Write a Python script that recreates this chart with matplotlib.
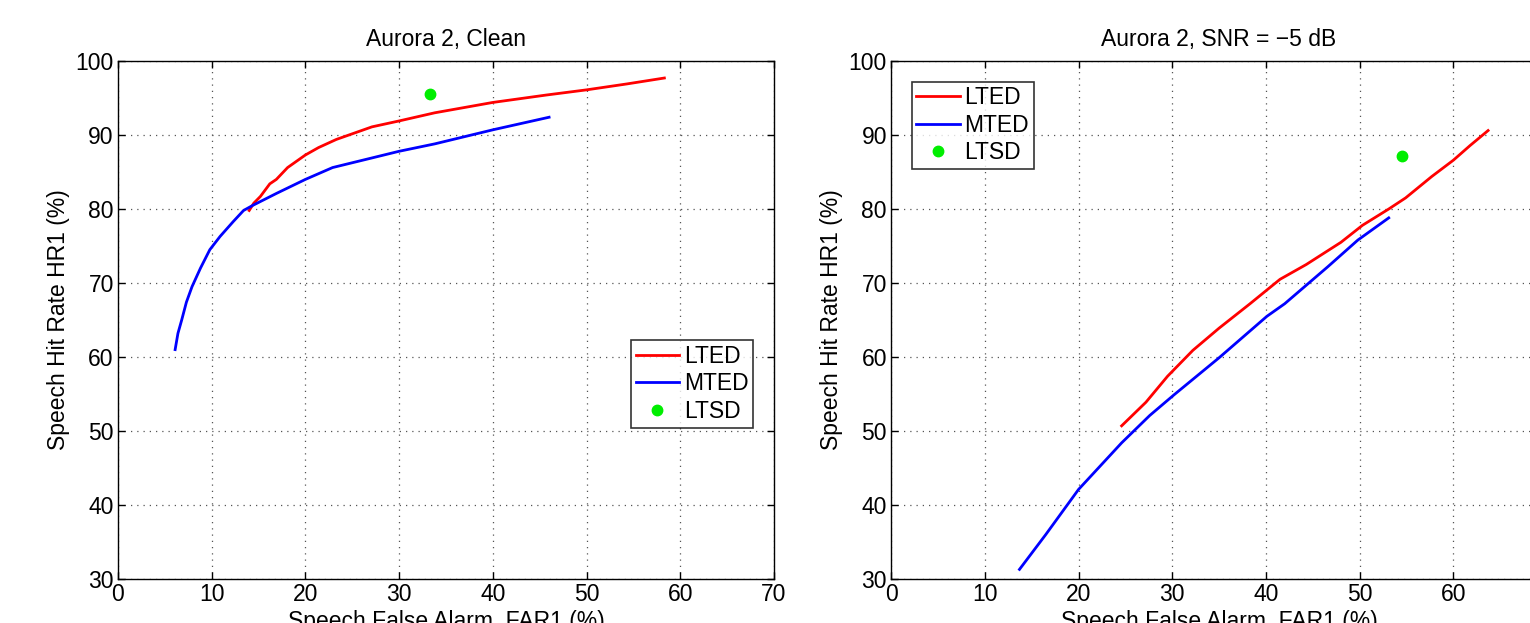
import matplotlib
matplotlib.use("Agg")
import matplotlib.pyplot as plt

plt.rcParams['font.family'] = ['Liberation Sans', 'DejaVu Sans']

# Clean condition: ROC points (false alarm %, hit rate %)
clean_lted_far = [14.0, 14.5, 15.2, 16.2, 16.9, 18.1, 20.0, 21.4, 23.3, 27.1, 30.0, 33.8, 40.0, 45.7, 50.0, 54.3, 58.3]
clean_lted_hr = [79.8, 80.8, 81.7, 83.4, 84.0, 85.6, 87.3, 88.3, 89.4, 91.1, 91.9, 93.0, 94.4, 95.4, 96.1, 96.9, 97.7]
clean_mted_far = [6.1, 6.4, 6.8, 7.3, 7.9, 8.8, 9.8, 10.9, 12.3, 13.4, 14.4, 16.9, 20.0, 22.9, 27.1, 30.0, 33.8, 40.0, 46.0]
clean_mted_hr = [61.0, 63.2, 65.0, 67.4, 69.5, 72.0, 74.5, 76.3, 78.3, 79.8, 80.5, 82.1, 84.0, 85.6, 86.9, 87.8, 88.8, 90.7, 92.4]
clean_ltsd = (33.3, 95.5)

# SNR = -5 dB
noisy_lted_far = [24.6, 27.2, 29.5, 32.2, 35.0, 38.3, 41.5, 44.3, 48.0, 50.3, 53.1, 54.9, 57.7, 60.0, 61.8, 63.7]
noisy_lted_hr = [50.7, 53.9, 57.4, 60.9, 63.9, 67.2, 70.5, 72.5, 75.5, 77.8, 80.0, 81.5, 84.4, 86.6, 88.6, 90.6]
noisy_mted_far = [13.7, 16.5, 20.0, 24.6, 27.6, 30.2, 35.0, 40.1, 42.0, 46.6, 49.8, 53.1]
noisy_mted_hr = [31.3, 36.0, 42.1, 48.4, 52.1, 54.9, 59.9, 65.5, 67.2, 72.2, 75.8, 78.8]
noisy_ltsd = (54.5, 87.1)

xticks = [0, 10, 20, 30, 40, 50, 60, 70]
yticks = [30, 40, 50, 60, 70, 80, 90, 100]

FS = 16.5

fig = plt.figure(figsize=(15.3, 6.23), dpi=100)
ax1 = fig.add_axes([0.0771, 0.0706, 0.4288, 0.8315])
ax2 = fig.add_axes([0.5824, 0.0706, 0.4288, 0.8315])


def draw_panel(ax, lted, mted, ltsd, title, legend_kw, xlabels):
    ax.plot(lted[0], lted[1], color='#ff0000', lw=2.0, label='LTED')
    ax.plot(mted[0], mted[1], color='#0000ff', lw=2.0, label='MTED')
    ax.plot([ltsd[0]], [ltsd[1]], 'o', color='#00ee00', ms=7.5, mec='#00ee00', label='LTSD')
    ax.set_xlim(0, 70)
    ax.set_ylim(30, 100)
    ax.set_xticks(xticks)
    ax.set_xticklabels(xlabels)
    ax.set_yticks(yticks)
    ax.grid(True, linestyle=(0, (1, 4)), color='#555555', lw=0.9)
    ax.tick_params(direction='in', top=True, right=True, length=5, width=1,
                   labelsize=FS, pad=3)
    for s in ax.spines.values():
        s.set_linewidth(1.0)
    ax.set_title(title, fontsize=FS, pad=11)
    ax.set_xlabel('Speech False Alarm, FAR1 (%)', fontsize=FS, labelpad=3)
    ax.set_ylabel('Speech Hit Rate HR1 (%)', fontsize=FS, labelpad=4)
    leg = ax.legend(fontsize=FS, frameon=True, fancybox=False, handlelength=1.9,
                    handletextpad=0.2, labelspacing=0.2, borderpad=0.2,
                    borderaxespad=0, **legend_kw)
    leg.get_frame().set_edgecolor('black')
    leg.get_frame().set_linewidth(1.2)


draw_panel(ax1, (clean_lted_far, clean_lted_hr), (clean_mted_far, clean_mted_hr),
           clean_ltsd, 'Aurora 2, Clean',
           dict(loc='upper left', bbox_to_anchor=(0.782, 0.461)),
           [str(t) for t in xticks])
# the 70 label of the right panel falls outside the canvas
draw_panel(ax2, (noisy_lted_far, noisy_lted_hr), (noisy_mted_far, noisy_mted_hr),
           noisy_ltsd, 'Aurora 2, SNR = \u22125 dB',
           dict(loc='upper left', bbox_to_anchor=(0.0316, 0.960)),
           [str(t) for t in xticks[:-1]] + [''])

fig.savefig('out.png', dpi=100)
